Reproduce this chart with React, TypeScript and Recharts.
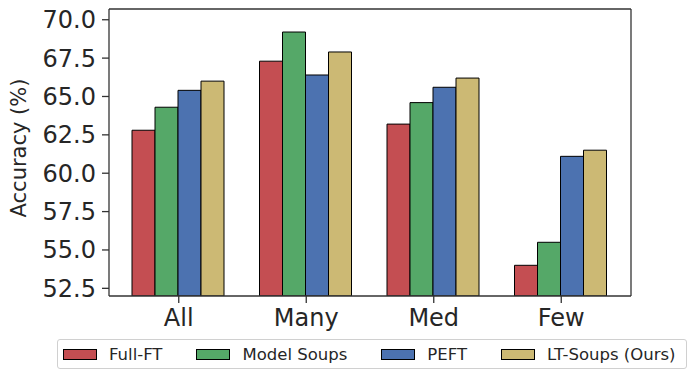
import { BarChart, Bar, Line, XAxis, YAxis, Label } from 'recharts';

const categories = ['All', 'Many', 'Med', 'Few'];
const fullFT = [62.8, 67.3, 63.2, 54.0];
const modelSoups = [64.3, 69.2, 64.6, 55.5];
const peft = [65.4, 66.4, 65.6, 61.1];
const ltSoups = [66.0, 67.9, 66.2, 61.5];
const yTicks = [52.5, 55.0, 57.5, 60.0, 62.5, 65.0, 67.5, 70.0];

const series = [
  { key: 'fullFT', name: 'Full-FT', color: '#C44E52' },
  { key: 'modelSoups', name: 'Model Soups', color: '#55A868' },
  { key: 'peft', name: 'PEFT', color: '#4C72B0' },
  { key: 'ltSoups', name: 'LT-Soups (Ours)', color: '#CCB974' },
];

const data = categories.map((cat, i) => ({
  cat,
  fullFT: fullFT[i],
  modelSoups: modelSoups[i],
  peft: peft[i],
  ltSoups: ltSoups[i],
}));

const FONT = 'DejaVu Sans, sans-serif';
const AXIS = '#333333';
const TEXT = '#262626';

export default function App() {
  return (
    <div style={{ position: 'absolute', left: 0, top: 0, width: 694, height: 379, background: '#fff' }}>
      <BarChart
        width={694}
        height={379}
        data={data}
        margin={{ top: 8, right: 62, left: 0, bottom: 0 }}
        barCategoryGap={17}
        barGap={0}
      >
        <XAxis
          dataKey="cat"
          height={83}
          padding={{ left: 6, right: 6 }}
          tick={{ fontSize: 24, fill: TEXT, fontFamily: FONT }}
          tickSize={7}
          tickMargin={6}
          tickLine={{ stroke: AXIS, strokeWidth: 1.3 }}
          axisLine={{ stroke: AXIS, strokeWidth: 1.3 }}
        />
        <XAxis
          xAxisId="top"
          orientation="top"
          dataKey="cat"
          height={1}
          tick={false}
          tickLine={false}
          axisLine={{ stroke: AXIS, strokeWidth: 1.3 }}
        />
        <YAxis
          domain={[52, 70.7]}
          ticks={yTicks}
          allowDataOverflow
          width={109}
          tickFormatter={(v: number) => v.toFixed(1)}
          tick={{ fontSize: 24, fill: TEXT, fontFamily: FONT }}
          tickSize={7}
          tickMargin={6}
          tickLine={{ stroke: AXIS, strokeWidth: 1.3 }}
          axisLine={{ stroke: AXIS, strokeWidth: 1.3 }}
        >
          <Label
            content={() => (
              <text
                x={19}
                y={148}
                transform="rotate(-90 19 148)"
                textAnchor="middle"
                dominantBaseline="central"
                fontSize={21}
                fontFamily={FONT}
                fill={TEXT}
              >
                Accuracy (%)
              </text>
            )}
          />
        </YAxis>
        <YAxis
          yAxisId="right"
          orientation="right"
          width={1}
          domain={[52, 70.7]}
          allowDataOverflow
          tick={false}
          tickLine={false}
          axisLine={{ stroke: AXIS, strokeWidth: 1.3 }}
        />
        {series.map((s) => (
          <Bar
            key={s.key}
            dataKey={s.key}
            name={s.name}
            fill={s.color}
            stroke="#000"
            strokeWidth={1}
            isAnimationActive={false}
          />
        ))}
        {/* invisible series so the frame axes (top/right) get drawn */}
        <Line
          xAxisId="top"
          yAxisId="right"
          dataKey="ltSoups"
          stroke="transparent"
          dot={false}
          activeDot={false}
          legendType="none"
          isAnimationActive={false}
        />
      </BarChart>
      <div
        style={{
          position: 'absolute',
          left: 57,
          top: 339,
          width: 630,
          height: 30,
          boxSizing: 'border-box',
          border: '1px solid #d0d0d0',
          borderRadius: 3,
          display: 'flex',
          alignItems: 'center',
          paddingLeft: 5,
          fontFamily: FONT,
          fontSize: 16.5,
          color: TEXT,
          whiteSpace: 'nowrap',
        }}
      >
        {series.map((s, i) => (
          <div key={s.key} style={{ display: 'flex', alignItems: 'center', marginLeft: i === 0 ? 0 : 34 }}>
            <span
              style={{
                display: 'inline-block',
                width: 34,
                height: 11,
                boxSizing: 'border-box',
                background: s.color,
                border: '1px solid #000',
                marginRight: 12,
              }}
            />
            <span>{s.name}</span>
          </div>
        ))}
      </div>
    </div>
  );
}
